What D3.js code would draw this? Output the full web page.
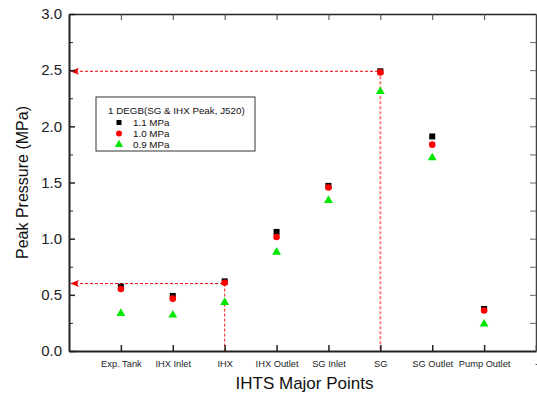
<!DOCTYPE html>
<html><head><meta charset="utf-8">
<script src="https://cdn.jsdelivr.net/npm/d3@7"></script>
<style>body{margin:0;background:#fff}svg{display:block;font-family:Arial,"Liberation Sans",sans-serif}</style>
</head><body><svg id="c" width="537" height="395"></svg>
<script>
const categories = ["Exp. Tank","IHX Inlet","IHX","IHX Outlet","SG Inlet","SG","SG Outlet","Pump Outlet","-"];
const s11 = [0.573, 0.49, 0.62, 1.06, 1.47, 2.49, 1.91, 0.374];
const s10 = [0.552, 0.466, 0.608, 1.015, 1.455, 2.48, 1.837, 0.36];
const s09 = [0.335, 0.32, 0.433, 0.88, 1.34, 2.31, 1.72, 0.24];
const yTicks = [0.0, 0.5, 1.0, 1.5, 2.0, 2.5, 3.0];
const seriesNames = ["1.1 MPa","1.0 MPa","0.9 MPa"];
const legendTitle = "1 DEGB(SG & IHX Peak, J520)";
const guides = [{idx:2, value:0.60}, {idx:5, value:2.49}];

const svg = d3.select("#c");
const L=69, R=536, T=14, B=351;
const x = d3.scaleLinear().domain([0,9]).range([L,R]);
const y = d3.scaleLinear().domain([0,3]).range([B,T]);

// guides
const g = svg.append("g");
guides.forEach(d=>{
  g.append("line").attr("x1",L+6).attr("x2",x(d.idx+1)).attr("y1",y(d.value)).attr("y2",y(d.value))
    .attr("stroke","#e00").attr("stroke-width",1).attr("stroke-dasharray","3,2");
  g.append("line").attr("x1",x(d.idx+1)).attr("x2",x(d.idx+1)).attr("y1",y(d.value)).attr("y2",B)
    .attr("stroke","#f00").attr("stroke-opacity",d.idx===5?0.5:0.9).attr("stroke-width",d.idx===5?2:1).attr("stroke-dasharray","3,2");
  g.append("path").attr("d",`M${L+1},${y(d.value)} l9,-3.5 l-2,3.5 l2,3.5 z`).attr("fill","#e00");
});

// axes
const tickLen = 6;
const xa = d3.axisBottom(x).tickValues(d3.range(1,10)).tickSize(-tickLen).tickSizeOuter(0).tickFormat(i=>categories[i-1]);
svg.append("g").attr("transform",`translate(0,${B})`).call(xa)
  .call(a=>{a.select(".domain").attr("stroke","#222").attr("stroke-width",2);
    a.selectAll(".tick line").attr("stroke","#222").attr("stroke-width",1.5);
    a.selectAll(".tick text").attr("y",9).attr("font-size",9.3).attr("fill","#222");});
svg.append("g").attr("transform",`translate(0,${T})`).call(d3.axisTop(x).tickValues(d3.range(1,9)).tickSize(-tickLen).tickSizeOuter(0).tickFormat(""))
  .call(a=>{a.select(".domain").attr("stroke","#222").attr("stroke-width",1.5);a.selectAll(".tick line").attr("stroke","#444");});
const ya = d3.axisLeft(y).tickValues(yTicks).tickSize(-tickLen).tickSizeOuter(0).tickFormat(d3.format(".1f"));
svg.append("g").attr("transform",`translate(${L},0)`).call(ya)
  .call(a=>{a.select(".domain").attr("stroke","#222").attr("stroke-width",2);
    a.selectAll(".tick line").attr("stroke","#222").attr("stroke-width",1.5);
    a.selectAll(".tick text").attr("x",-7).attr("font-size",15).attr("fill","#222");});
svg.append("g").attr("transform",`translate(${L},0)`).call(d3.axisLeft(y).tickValues(d3.range(0.25,3,0.5)).tickSize(-4).tickSizeOuter(0).tickFormat(""))
  .call(a=>{a.select(".domain").remove();a.selectAll(".tick line").attr("stroke","#222");});
svg.append("g").attr("transform",`translate(${R},0)`).call(d3.axisRight(y).tickValues(d3.range(0.25,3,0.25)).tickSize(-tickLen).tickSizeOuter(0).tickFormat(""))
  .call(a=>{a.select(".domain").attr("stroke","#444").attr("stroke-width",1.5);a.selectAll(".tick line").attr("stroke","#666");});

// titles
svg.append("text").attr("x",(L+R)/2+2).attr("y",389).attr("text-anchor","middle").attr("font-size",17).attr("fill","#111").text("IHTS Major Points");
svg.append("text").attr("transform",`translate(28,${(T+B)/2}) rotate(-90)`).attr("text-anchor","middle").attr("font-size",16).attr("fill","#111").text("Peak Pressure (MPa)");

// markers
const pts = svg.append("g");
pts.selectAll(".sq").data(s11).join("rect").attr("x",(d,i)=>x(i+1)-3).attr("y",d=>y(d)-3).attr("width",6).attr("height",6).attr("fill","#000");
pts.selectAll(".ci").data(s10).join("circle").attr("cx",(d,i)=>x(i+1)).attr("cy",d=>y(d)).attr("r",3.3).attr("fill","#f00");
const tri = d3.symbol().type(d3.symbolTriangle).size(34);
pts.selectAll(".tr").data(s09).join("path").attr("d",tri).attr("transform",(d,i)=>`translate(${x(i+1)},${y(d)})`).attr("fill","#00e600");

// legend
const lg = svg.append("g");
lg.append("rect").attr("x",96).attr("y",97).attr("width",159).attr("height",54).attr("fill","#fff").attr("stroke","#333").attr("stroke-width",1);
lg.append("text").attr("x",108).attr("y",113.5).attr("font-size",9.8).attr("fill","#111").text(legendTitle);
const ly = [122.5,133.5,144.5];
lg.append("rect").attr("x",116.5).attr("y",ly[0]-2.5).attr("width",5).attr("height",5).attr("fill","#000");
lg.append("circle").attr("cx",119).attr("cy",ly[1]).attr("r",3).attr("fill","#f00");
lg.append("path").attr("d",d3.symbol().type(d3.symbolTriangle).size(30)).attr("transform",`translate(119,${ly[2]})`).attr("fill","#00e600");
seriesNames.forEach((n,i)=>lg.append("text").attr("x",133).attr("y",ly[i]+3.5).attr("font-size",9.8).attr("fill","#111").text(n));
</script></body></html>
